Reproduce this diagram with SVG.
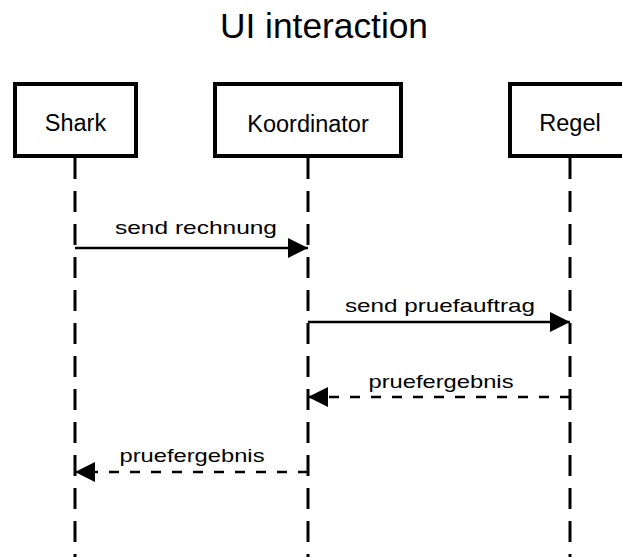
<svg xmlns="http://www.w3.org/2000/svg" width="622" height="557" viewBox="0 0 622 557">
<style>
.box{fill:#fff;stroke:#000;stroke-width:4}
.lbl{font-family:"Liberation Sans",Arial,sans-serif;font-size:23.5px;text-anchor:middle;fill:#000}
.msg{font-family:"Liberation Sans",Arial,sans-serif;font-size:19px;text-anchor:middle;fill:#000}
.life{stroke:#000;stroke-width:3;stroke-dasharray:21 12;fill:none}
.solid{stroke:#000;stroke-width:2.5;fill:none;marker-end:url(#ah)}
.dash{stroke:#000;stroke-width:2.5;fill:none;stroke-dasharray:10 11;marker-end:url(#ah)}
</style>
<defs>
<marker id="ah" markerUnits="userSpaceOnUse" markerWidth="22" markerHeight="22" viewBox="0 0 22 22" refX="21" refY="11" orient="auto">
<path d="M1,1 L21,11 L1,21 Z" fill="#000"/>
</marker>
</defs>
<rect width="622" height="557" fill="#fff"/>
<text x="324" y="38" font-family="Liberation Sans,Arial,sans-serif" font-size="35" text-anchor="middle" textLength="208" lengthAdjust="spacingAndGlyphs">UI interaction</text>
<g id="connectors">
<line class="life" x1="75" y1="158" x2="75" y2="557"/>
<line class="life" x1="308" y1="158" x2="308" y2="557"/>
<line class="life" x1="570" y1="158" x2="570" y2="557"/>
<line class="solid" x1="75" y1="248" x2="308" y2="248"/>
<text class="msg" x="196" y="234" textLength="162" lengthAdjust="spacingAndGlyphs">send rechnung</text>
<line class="solid" x1="308" y1="322" x2="570" y2="322"/>
<text class="msg" x="440" y="312" textLength="190" lengthAdjust="spacingAndGlyphs">send pruefauftrag</text>
<line class="dash" x1="570" y1="397" x2="308" y2="397"/>
<text class="msg" x="441" y="388" textLength="145" lengthAdjust="spacingAndGlyphs">pruefergebnis</text>
<line class="dash" x1="308" y1="472" x2="75" y2="472"/>
<text class="msg" x="192" y="462" textLength="145" lengthAdjust="spacingAndGlyphs">pruefergebnis</text>
</g>
<g id="shark">
<rect class="box" x="15" y="84" width="121" height="72"/>
<text class="lbl" x="75.5" y="131">Shark</text>
</g>
<g id="koordinator">
<rect class="box" x="215" y="84" width="186" height="72"/>
<text class="lbl" x="308" y="132">Koordinator</text>
</g>
<g id="regel">
<rect class="box" x="510" y="84" width="121" height="72"/>
<text class="lbl" x="570" y="131">Regel</text>
</g>
</svg>
